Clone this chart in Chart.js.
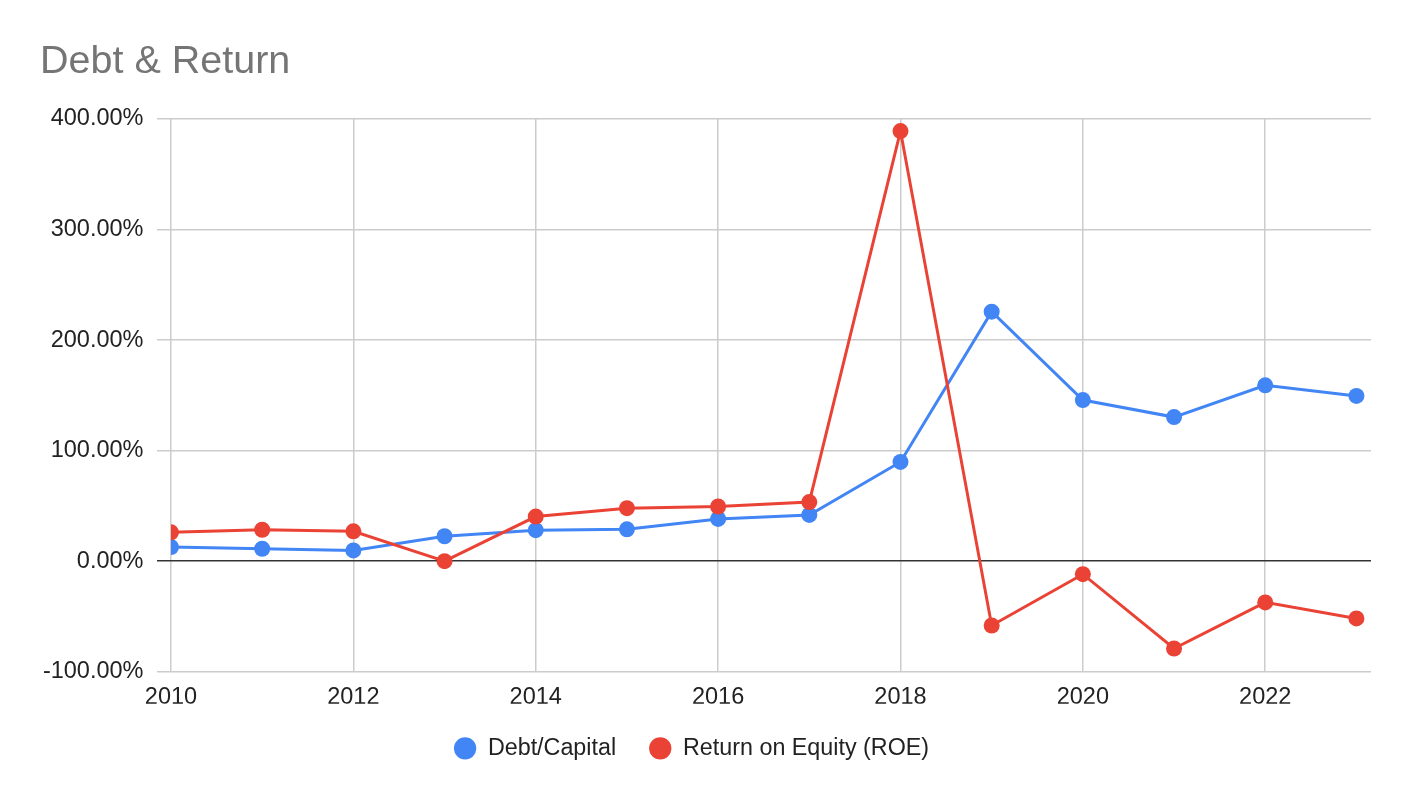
<!DOCTYPE html>
<html>
<head>
<meta charset="utf-8">
<script src="https://cdn.jsdelivr.net/npm/chart.js@4.4.1/dist/chart.umd.min.js"></script>
<style>
    html, body { margin: 0; padding: 0; background: #ffffff; }
    #wrap { width: 1410px; height: 798px; }
</style>
</head>
<body>
<div id="wrap"><canvas id="debtChart" width="1410" height="798"></canvas></div>
<script>
// Values (percent)
const years = [2010, 2011, 2012, 2013, 2014, 2015, 2016, 2017, 2018, 2019, 2020, 2021, 2022, 2023];
const debtCapital = [12.7, 11.2, 9.7, 22.5, 28.0, 28.8, 38.2, 41.8, 89.7, 225.6, 145.7, 130.3, 159.0, 149.4];
const returnOnEquity = [26.1, 28.4, 27.0, 0.0, 40.3, 47.9, 49.4, 53.4, 389.0, -58.2, -11.8, -79.0, -37.3, -51.8];
const xTicks = [2010, 2012, 2014, 2016, 2018, 2020, 2022];
const yTicks = [-100, 0, 100, 200, 300, 400];

const fontFamily = '"Liberation Sans", Arial, sans-serif';

function toPoints(values) {
    return years.map((year, i) => ({ x: year, y: values[i] }));
}

// Nudge the legend a little left, it is not centred on the page in the original
const legendShift = {
    id: 'legendShift',
    afterLayout(chart) {
        if (chart.legend) {
            chart.legend.left -= 14;
            chart.legend.right -= 14;
        }
    }
};

document.addEventListener('DOMContentLoaded', function() {
    const canvasElement = document.getElementById('debtChart');

    new Chart(canvasElement, {
        type: 'line',
        data: {
            datasets: [
                {
                    label: 'Debt/Capital',
                    data: toPoints(debtCapital),
                    borderColor: '#4285F4',
                    backgroundColor: '#4285F4',
                    borderWidth: 3,
                    pointRadius: 8,
                    pointHoverRadius: 8,
                    pointBorderWidth: 0,
                    tension: 0,
                    order: 1
                },
                {
                    label: 'Return on Equity (ROE)',
                    data: toPoints(returnOnEquity),
                    borderColor: '#EA4335',
                    backgroundColor: '#EA4335',
                    borderWidth: 3,
                    pointRadius: 8,
                    pointHoverRadius: 8,
                    pointBorderWidth: 0,
                    tension: 0,
                    order: 0
                }
            ]
        },
        options: {
            responsive: false,
            animation: false,
            layout: { padding: { left: 40, right: 39, top: 0, bottom: 28 } },
            plugins: {
                title: {
                    display: true,
                    text: 'Debt & Return',
                    align: 'start',
                    color: '#757575',
                    font: { family: fontFamily, size: 39.5, weight: 'normal' },
                    padding: { top: 38, bottom: 33.5 }
                },
                legend: {
                    position: 'bottom',
                    labels: {
                        sort: (a, b) => a.datasetIndex - b.datasetIndex,
                        usePointStyle: true,
                        pointStyle: 'circle',
                        pointStyleWidth: 22.3,
                        boxHeight: 15.8,
                        padding: 33,
                        color: '#222222',
                        font: { family: fontFamily, size: 23.3 }
                    }
                },
                tooltip: { enabled: false }
            },
            scales: {
                x: {
                    type: 'linear',
                    min: 2010,
                    max: 2023.16,
                    afterBuildTicks: (scale) => {
                        scale.ticks = xTicks.map(v => ({ value: v }));
                    },
                    afterFit: (scale) => {
                        scale.height = 32;
                    },
                    grid: {
                        color: '#cccccc',
                        lineWidth: 1.5,
                        drawTicks: false
                    },
                    border: { display: false },
                    ticks: {
                        color: '#222222',
                        padding: 12,
                        maxRotation: 0,
                        autoSkip: false,
                        font: { family: fontFamily, size: 23.5 },
                        callback: (value) => String(value)
                    }
                },
                y: {
                    min: -100,
                    max: 400,
                    afterBuildTicks: (scale) => {
                        scale.ticks = yTicks.map(v => ({ value: v }));
                    },
                    afterFit: (scale) => {
                        scale.width = 131;
                    },
                    grid: {
                        color: (ctx) => ctx.tick && ctx.tick.value === 0 ? '#333333' : '#cccccc',
                        lineWidth: 1.5,
                        tickLength: 14
                    },
                    border: { display: false },
                    ticks: {
                        color: '#222222',
                        padding: 13.5,
                        font: { family: fontFamily, size: 23.5 },
                        callback: (value) => value.toFixed(2) + '%'
                    }
                }
            }
        },
        plugins: [legendShift]
    });
});
</script>
</body>
</html>
